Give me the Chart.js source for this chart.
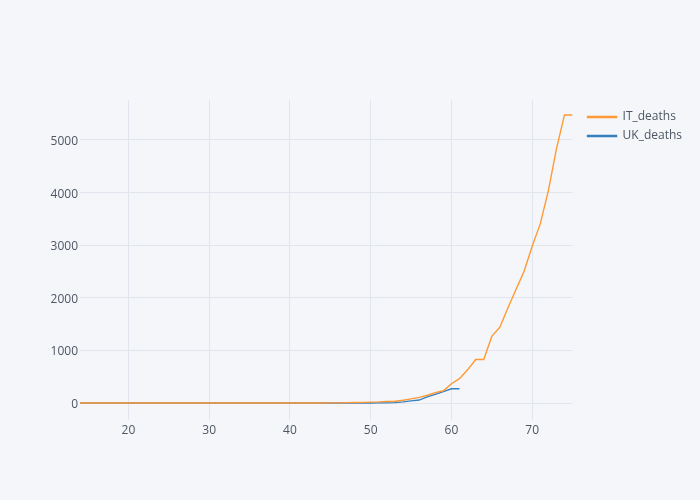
<!DOCTYPE html>
<html>
<head>
<meta charset="utf-8">
<title>IT vs UK deaths</title>
<script src="https://cdn.jsdelivr.net/npm/chart.js@4.4.1/dist/chart.umd.min.js"></script>
<style>
  html, body { margin: 0; padding: 0; background: #F5F6F9; }
  #wrap { width: 700px; height: 500px; }
</style>
</head>
<body>
<div id="wrap"><canvas id="grafico" width="700" height="500"></canvas></div>
<script>
// ----- dados -----
const dias = [14, 15, 16, 17, 18, 19, 20, 21, 22, 23, 24, 25, 26, 27, 28, 29, 30,
  31, 32, 33, 34, 35, 36, 37, 38, 39, 40, 41, 42, 43, 44, 45, 46, 47, 48, 49, 50,
  51, 52, 53, 54, 55, 56, 57, 58, 59, 60, 61, 62, 63, 64, 65, 66, 67, 68, 69, 70,
  71, 72, 73, 74, 75];

const itDeaths = [0, 0, 0, 0, 0, 0, 0, 0, 0, 0, 0, 0, 0, 0, 0, 0, 0,
  0, 0, 0, 0, 0, 0, 0, 0, 0, 0, 0, 0, 0, 1, 2, 3, 7, 10, 12, 17,
  21, 29, 34, 52, 79, 107, 148, 197, 233, 366, 463, 631, 827, 827, 1266, 1441, 1809, 2158, 2503, 2978,
  3405, 4032, 4825, 5476, 5476];

// UK termina no dia 61
const ukDeaths = [0, 0, 0, 0, 0, 0, 0, 0, 0, 0, 0, 0, 0, 0, 0, 0, 0,
  0, 0, 0, 0, 0, 0, 0, 0, 0, 0, 0, 0, 0, 0, 0, 0, 0, 0, 0, 1,
  2, 3, 8, 21, 40, 56, 115, 165, 215, 270, 270];

const xTicks = [20, 30, 40, 50, 60, 70];
const yTicks = [0, 1000, 2000, 3000, 4000, 5000];

const seriesNames = ['IT_deaths', 'UK_deaths'];
const cores = ['rgb(255, 153, 51)', 'rgb(55, 128, 191)'];

const textColor = '#4D5663';
const gridColor = '#E1E5ED';

Chart.defaults.font.family = '"Open Sans", "DejaVu Sans", sans-serif';
Chart.defaults.font.size = 12;
Chart.defaults.color = textColor;

const pontos = (valores) => valores.map((v, i) => ({ x: dias[i], y: v }));

// empurra a legenda para a direita e para baixo, como no plotly
const ajusteLegenda = {
  id: 'ajusteLegenda',
  afterLayout(chart) {
    if (chart.legend) {
      chart.legend.left += 8;
      chart.legend.right += 8;
      chart.legend.top += 4;
      chart.legend.bottom += 4;
    }
  }
};

const ctx = document.getElementById('grafico').getContext('2d');

new Chart(ctx, {
  type: 'line',
  data: {
    datasets: [
      {
        label: seriesNames[0],
        data: pontos(itDeaths),
        borderColor: cores[0],
        backgroundColor: cores[0],
        borderWidth: 1.4,
        pointRadius: 0,
        tension: 0
      },
      {
        label: seriesNames[1],
        data: pontos(ukDeaths),
        borderColor: cores[1],
        backgroundColor: cores[1],
        borderWidth: 1.4,
        pointRadius: 0,
        tension: 0
      }
    ]
  },
  options: {
    responsive: false,
    animation: false,
    layout: {
      padding: { top: 100, right: 16, bottom: 0, left: 0 }
    },
    scales: {
      x: {
        type: 'linear',
        min: 14,
        max: 75,
        afterBuildTicks: (scale) => { scale.ticks = xTicks.map(v => ({ value: v })); },
        afterFit: (scale) => { scale.height = 80; },
        grid: { color: gridColor, drawTicks: false },
        border: { display: false },
        ticks: { padding: 3, color: textColor, maxRotation: 0, callback: (v) => String(v) }
      },
      y: {
        type: 'linear',
        min: -323,
        max: 5760,
        afterBuildTicks: (scale) => { scale.ticks = yTicks.map(v => ({ value: v })); },
        afterFit: (scale) => { scale.width = 80; },
        grid: { color: gridColor, drawTicks: false },
        border: { display: false },
        ticks: { padding: 2, labelOffset: 1.5, color: textColor, callback: (v) => String(v) }
      }
    },
    plugins: {
      legend: {
        display: true,
        position: 'right',
        align: 'start',
        labels: {
          boxWidth: 29,
          boxHeight: 1,
          padding: 7,
          color: textColor
        }
      },
      tooltip: { enabled: false }
    }
  },
  plugins: [ajusteLegenda]
});
</script>
</body>
</html>
